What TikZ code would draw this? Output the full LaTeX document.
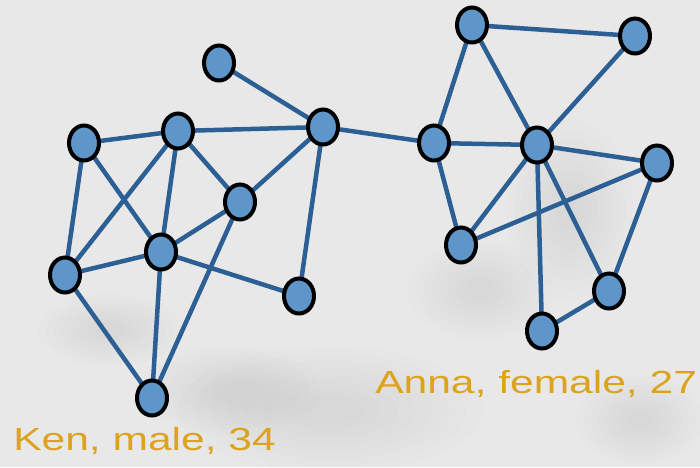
\documentclass[tikz,border=0pt]{standalone}
\usepackage{fontspec}
\setmainfont{Liberation Sans}
\usetikzlibrary{shapes.geometric}
\pgfdeclarelayer{paper}
\pgfdeclarelayer{wires}
\pgfsetlayers{paper,wires,main}
\begin{document}
\definecolor{bgbase}{HTML}{E8E8E8}
\definecolor{bgshade}{HTML}{B8B8B8}
\definecolor{edgeblue}{HTML}{2C5F94}
\definecolor{nodeblue}{HTML}{5F96CA}
\definecolor{labelgold}{HTML}{DEA31C}
\begin{tikzpicture}[x=1pt,y=-1pt,
  vertex/.style={shape=ellipse,draw=black,line width=4pt,fill=nodeblue,
    minimum width=30pt,minimum height=35pt,inner sep=0pt},
  link/.style={draw=edgeblue,line width=4.5pt},
  caption/.style={text=labelgold,font=\fontsize{32}{32}\selectfont,
    xscale=1.33,inner sep=0pt,anchor=base west}]
\useasboundingbox (0,0) rectangle (700,467);

% paper with soft, faint texture: stacked translucent ellipses
\begin{pgfonlayer}{paper}
\fill[bgbase] (0,0) rectangle (700,467);
\foreach \cx/\cy/\rx/\ry in {330/410/170/70, 230/390/100/50, 480/290/80/55,
                             570/210/70/100, 640/420/70/50, 110/330/80/40}
  \foreach \k in {1,...,8}
    \fill[bgshade,opacity=0.035]
      (\cx,\cy) ellipse ({\rx*(1-0.1*\k)} and {\ry*(1-0.1*\k)});
\end{pgfonlayer}

% vertices
\begin{scope}[every node/.style={vertex}]
\node (a1) at (219,63) {};
\node (a2) at (84,143) {};
\node (a3) at (178,131) {};
\node (a4) at (323,127) {};
\node (a5) at (240,202) {};
\node (a6) at (161,252) {};
\node (a7) at (65,275) {};
\node (a8) at (299,296) {};
\node (a9) at (152,398) {};
\node (b1) at (434,143) {};
\node (b2) at (472,25) {};
\node (b3) at (635,36) {};
\node (b4) at (537,145) {};
\node (b5) at (657,163) {};
\node (b6) at (461,245) {};
\node (b7) at (609,291) {};
\node (b8) at (542,331) {};
\end{scope}

% connections, center to center beneath the vertices
\begin{pgfonlayer}{wires}
\foreach \u/\v in {a1/a4,a2/a3,a3/a4,a2/a7,a2/a6,a3/a7,a3/a6,a3/a5,a4/a5,a4/a8,
                   a5/a6,a5/a9,a6/a7,a6/a8,a6/a9,a7/a9,a4/b1,
                   b1/b2,b1/b4,b1/b6,b2/b3,b2/b4,b3/b4,b4/b5,b4/b6,b4/b7,b4/b8,
                   b5/b6,b5/b7,b7/b8}
  \path[link] (\u.center) -- (\v.center);
\end{pgfonlayer}

% captions
\node[caption] (ken) at (13,450) {Ken, male, 34};
\node[caption] (anna) at (375,393) {Anna, female, 27};
\end{tikzpicture}
\end{document}
